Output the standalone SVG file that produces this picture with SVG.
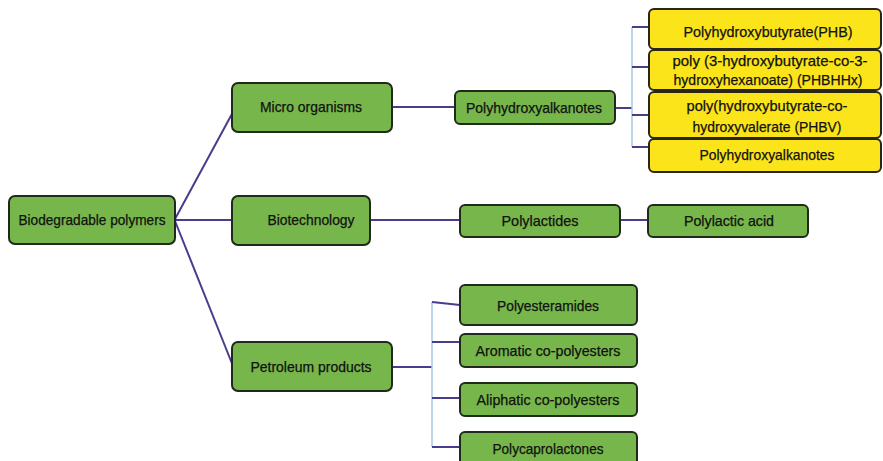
<svg xmlns="http://www.w3.org/2000/svg" width="883" height="461" viewBox="0 0 883 461">
<style>
.g{fill:#77b64a;stroke:#1f2a1a;stroke-width:2}
.y{fill:#fbe41a;stroke:#2a2616;stroke-width:2}
.t{font-family:"Liberation Sans",Arial,sans-serif;font-size:15px;fill:#111111;text-anchor:middle;stroke:#111111;stroke-width:0.25}
.c{stroke:#4a3c8c;stroke-width:2;fill:none}
.b{stroke:#a9c9e6;stroke-width:1.5;fill:none}
</style>
<rect width="883" height="461" fill="#ffffff"/>
<g id="connectors">
<line class="c" x1="175" y1="219" x2="233" y2="112"/>
<line class="c" x1="175" y1="220" x2="232" y2="220"/>
<line class="c" x1="175" y1="221" x2="233" y2="366"/>
<line class="c" x1="392" y1="107" x2="455" y2="107"/>
<line class="c" x1="370" y1="220" x2="460" y2="220"/>
<line class="c" x1="620" y1="220" x2="648" y2="220"/>
<line class="c" x1="615" y1="108" x2="632" y2="108"/>
<line class="b" x1="632" y1="27" x2="632" y2="147"/>
<line class="c" x1="632" y1="27" x2="649" y2="27"/>
<line class="c" x1="632" y1="67" x2="649" y2="67"/>
<line class="c" x1="632" y1="115" x2="649" y2="115"/>
<line class="c" x1="632" y1="147" x2="649" y2="147"/>
<line class="c" x1="392" y1="367" x2="432" y2="367"/>
<line class="b" x1="432" y1="302" x2="432" y2="447"/>
<line class="c" x1="432" y1="302" x2="460" y2="305"/>
<line class="c" x1="432" y1="342" x2="460" y2="342"/>
<line class="c" x1="432" y1="398" x2="460" y2="398"/>
<line class="c" x1="432" y1="447" x2="460" y2="447"/>
</g>
<g id="root"><rect class="g" x="9" y="196" width="166" height="48" rx="6"/><text class="t" x="92" y="225" textLength="147" lengthAdjust="spacingAndGlyphs">Biodegradable polymers</text></g>
<g id="micro"><rect class="g" x="232" y="83" width="160" height="49" rx="6"/><text class="t" x="311" y="112" textLength="102" lengthAdjust="spacingAndGlyphs">Micro organisms</text></g>
<g id="pha"><rect class="g" x="455" y="91" width="160" height="33" rx="5"/><text class="t" x="534" y="113" textLength="136" lengthAdjust="spacingAndGlyphs">Polyhydroxyalkanotes</text></g>
<g id="phb"><rect class="y" x="649" y="9" width="232" height="40" rx="5"/><text class="t" x="768" y="37" textLength="169" lengthAdjust="spacingAndGlyphs">Polyhydroxybutyrate(PHB)</text></g>
<g id="phbhhx"><rect class="y" x="649" y="50" width="232" height="40" rx="5"/><text class="t" x="770" y="66" textLength="195" lengthAdjust="spacingAndGlyphs">poly (3-hydroxybutyrate-co-3-</text><text class="t" x="768" y="85" textLength="189" lengthAdjust="spacingAndGlyphs">hydroxyhexanoate) (PHBHHx)</text></g>
<g id="phbv"><rect class="y" x="649" y="92" width="232" height="46" rx="5"/><text class="t" x="767" y="111" textLength="161" lengthAdjust="spacingAndGlyphs">poly(hydroxybutyrate-co-</text><text class="t" x="767" y="132" textLength="149" lengthAdjust="spacingAndGlyphs">hydroxyvalerate (PHBV)</text></g>
<g id="pha2"><rect class="y" x="649" y="139" width="232" height="33" rx="5"/><text class="t" x="767" y="160" textLength="135" lengthAdjust="spacingAndGlyphs">Polyhydroxyalkanotes</text></g>
<g id="biotech"><rect class="g" x="232" y="196" width="138" height="49" rx="6"/><text class="t" x="311" y="225" textLength="87" lengthAdjust="spacingAndGlyphs">Biotechnology</text></g>
<g id="polylactides"><rect class="g" x="460" y="205" width="160" height="32" rx="5"/><text class="t" x="540" y="226" textLength="77" lengthAdjust="spacingAndGlyphs">Polylactides</text></g>
<g id="pla"><rect class="g" x="648" y="205" width="160" height="32" rx="5"/><text class="t" x="729" y="226" textLength="90" lengthAdjust="spacingAndGlyphs">Polylactic acid</text></g>
<g id="petroleum"><rect class="g" x="232" y="342" width="160" height="49" rx="6"/><text class="t" x="311" y="372" textLength="121" lengthAdjust="spacingAndGlyphs">Petroleum products</text></g>
<g id="polyesteramides"><rect class="g" x="460" y="285" width="177" height="40" rx="5"/><text class="t" x="548" y="311" textLength="102" lengthAdjust="spacingAndGlyphs">Polyesteramides</text></g>
<g id="aromatic"><rect class="g" x="460" y="334" width="177" height="33" rx="5"/><text class="t" x="548" y="356" textLength="145" lengthAdjust="spacingAndGlyphs">Aromatic co-polyesters</text></g>
<g id="aliphatic"><rect class="g" x="460" y="383" width="177" height="33" rx="5"/><text class="t" x="548" y="405" textLength="143" lengthAdjust="spacingAndGlyphs">Aliphatic co-polyesters</text></g>
<g id="polycaprolactones"><rect class="g" x="460" y="432" width="177" height="40" rx="5"/><text class="t" x="548" y="454" textLength="111" lengthAdjust="spacingAndGlyphs">Polycaprolactones</text></g>
</svg>
